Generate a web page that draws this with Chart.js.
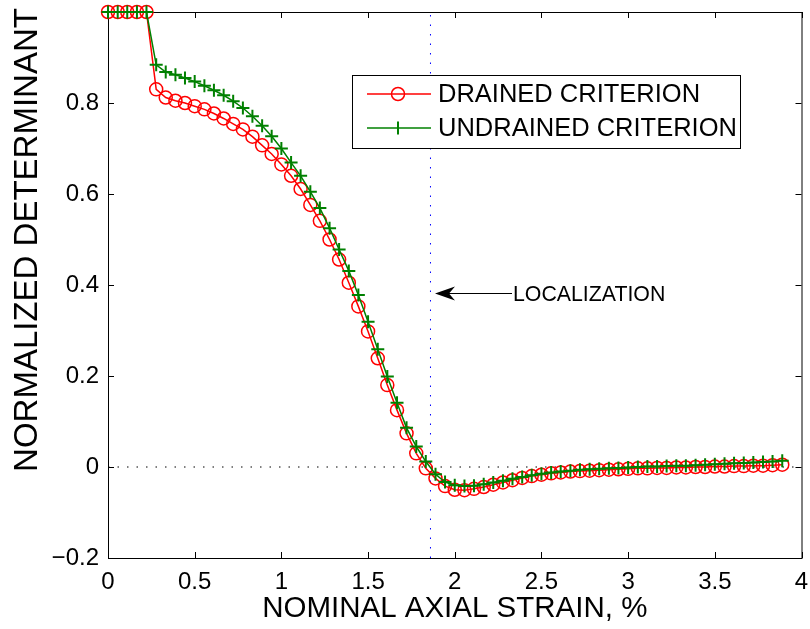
<!DOCTYPE html>
<html>
<head>
<meta charset="utf-8">
<script src="https://cdn.jsdelivr.net/npm/chart.js@4.4.1/dist/chart.umd.min.js"></script>
<style>
html, body { margin: 0; padding: 0; background: #fff; }
#wrap { width: 810px; height: 629px; }
</style>
</head>
<body>
<div id="wrap"><canvas id="chart" width="810" height="629"></canvas></div>
<script>
// nominal axial strain, %
const strain = [0, 0.056, 0.111, 0.167, 0.222, 0.278, 0.333, 0.389, 0.444, 0.5,
  0.556, 0.611, 0.667, 0.722, 0.778, 0.833, 0.889, 0.944, 1.0, 1.056,
  1.111, 1.167, 1.222, 1.278, 1.333, 1.389, 1.444, 1.5, 1.556, 1.611,
  1.667, 1.722, 1.778, 1.833, 1.889, 1.944, 2.0, 2.056, 2.111, 2.167,
  2.222, 2.278, 2.333, 2.389, 2.444, 2.5, 2.556, 2.611, 2.667, 2.722,
  2.778, 2.833, 2.889, 2.944, 3.0, 3.056, 3.111, 3.167, 3.222, 3.278,
  3.333, 3.389, 3.444, 3.5, 3.556, 3.611, 3.667, 3.722, 3.778, 3.833, 3.889];

// normalized determinant, drained criterion
const drained = [1, 1, 1, 1, 1, 0.830, 0.812, 0.805, 0.800, 0.793,
  0.786, 0.777, 0.766, 0.754, 0.742, 0.726, 0.707, 0.688, 0.665, 0.640,
  0.611, 0.576, 0.541, 0.500, 0.456, 0.405, 0.353, 0.298, 0.239, 0.180,
  0.125, 0.074, 0.030, -0.003, -0.025, -0.042, -0.050, -0.051, -0.048, -0.044,
  -0.039, -0.034, -0.029, -0.024, -0.020, -0.017, -0.014, -0.012, -0.010, -0.009,
  -0.008, -0.007, -0.006, -0.005, -0.004, -0.003, -0.003, -0.002, -0.002, -0.001,
  -0.001, 0.000, 0.000, 0.001, 0.001, 0.002, 0.002, 0.003, 0.003, 0.004, 0.005];

// normalized determinant, undrained criterion
const undrained = [1, 1, 1, 1, 1, 0.884, 0.868, 0.862, 0.855, 0.847,
  0.838, 0.828, 0.817, 0.804, 0.789, 0.771, 0.750, 0.727, 0.700, 0.669,
  0.640, 0.605, 0.569, 0.525, 0.478, 0.431, 0.378, 0.319, 0.259, 0.199,
  0.141, 0.086, 0.045, 0.012, -0.016, -0.033, -0.040, -0.042, -0.041, -0.038,
  -0.034, -0.030, -0.026, -0.022, -0.018, -0.015, -0.012, -0.010, -0.008, -0.006,
  -0.005, -0.004, -0.003, -0.002, -0.001, 0.000, 0.001, 0.001, 0.002, 0.003,
  0.003, 0.004, 0.005, 0.006, 0.007, 0.008, 0.009, 0.010, 0.011, 0.012, 0.014];

const localizationStrain = 1.86;

const xTicks = [0, 0.5, 1, 1.5, 2, 2.5, 3, 3.5, 4];
const xTickLabels = ['0', '0.5', '1', '1.5', '2', '2.5', '3', '3.5', '4'];
const yTicks = [-0.2, 0, 0.2, 0.4, 0.6, 0.8, 1];
const yTickLabels = ['\u22120.2', '0', '0.2', '0.4', '0.6', '0.8', ''];

const seriesNames = ['DRAINED CRITERION', 'UNDRAINED CRITERION'];
const FONT = "'Liberation Sans', Arial, Helvetica, sans-serif";

// box round the axes, with inward ticks on all four sides
const axesBox = {
  id: 'axesBox',
  beforeDatasetsDraw(chart) {
    const { ctx, chartArea: a, scales: { x, y } } = chart;
    ctx.save();
    ctx.strokeStyle = '#000';
    ctx.lineWidth = 1;
    ctx.strokeRect(a.left + 0.5, a.top + 0.5, a.right - a.left, a.bottom - a.top);
    ctx.beginPath();
    xTicks.forEach(v => {
      const px = Math.round(x.getPixelForValue(v)) + 0.5;
      ctx.moveTo(px, a.bottom); ctx.lineTo(px, a.bottom - 6);
      ctx.moveTo(px, a.top); ctx.lineTo(px, a.top + 6);
    });
    yTicks.forEach(v => {
      const py = Math.round(y.getPixelForValue(v)) + 0.5;
      ctx.moveTo(a.left, py); ctx.lineTo(a.left + 6, py);
      ctx.moveTo(a.right, py); ctx.lineTo(a.right - 6, py);
    });
    ctx.stroke();

    // y title sits above the axis centre, as in the original figure
    ctx.fillStyle = '#000';
    ctx.font = '33px ' + FONT;
    ctx.textAlign = 'center';
    ctx.textBaseline = 'middle';
    ctx.translate(28, 240);
    ctx.rotate(-Math.PI / 2);
    ctx.fillText('NORMALIZED DETERMINANT', 0, 0);
    ctx.restore();
  }
};

// legend box and LOCALIZATION arrow
const overlay = {
  id: 'overlay',
  afterDraw(chart) {
    const ctx = chart.ctx;
    ctx.save();
    // legend
    ctx.fillStyle = '#fff';
    ctx.fillRect(352, 75, 388, 73);
    ctx.strokeStyle = '#000';
    ctx.lineWidth = 1;
    ctx.strokeRect(352.5, 75.5, 388, 73);

    ctx.lineWidth = 1.5;
    ctx.strokeStyle = '#ff0000';
    ctx.beginPath(); ctx.moveTo(367, 94); ctx.lineTo(431, 94); ctx.stroke();
    ctx.beginPath(); ctx.arc(398, 94, 6.5, 0, Math.PI * 2); ctx.stroke();

    ctx.strokeStyle = '#008000';
    ctx.beginPath(); ctx.moveTo(367, 128); ctx.lineTo(431, 128); ctx.stroke();
    ctx.lineWidth = 2;
    ctx.beginPath(); ctx.moveTo(398, 121.5); ctx.lineTo(398, 134.5); ctx.stroke();

    ctx.fillStyle = '#000';
    ctx.font = '25.5px ' + FONT;
    ctx.textAlign = 'left';
    ctx.textBaseline = 'middle';
    ctx.fillText(seriesNames[0], 438, 95);
    ctx.fillText(seriesNames[1], 438, 129);

    // annotation arrow
    ctx.strokeStyle = '#000';
    ctx.lineWidth = 1;
    ctx.beginPath(); ctx.moveTo(512, 293.5); ctx.lineTo(445, 293.5); ctx.stroke();
    ctx.beginPath();
    ctx.moveTo(435, 293.5);
    ctx.lineTo(455, 286.5);
    ctx.lineTo(449, 293.5);
    ctx.lineTo(455, 300.5);
    ctx.closePath();
    ctx.fill();
    ctx.font = '21.3px ' + FONT;
    ctx.fillText('LOCALIZATION', 513, 295);
    ctx.restore();
  }
};

const pts = ys => strain.map((s, i) => ({ x: s, y: ys[i] }));

new Chart(document.getElementById('chart'), {
  type: 'line',
  data: {
    datasets: [
      {
        label: seriesNames[0],
        data: pts(drained),
        borderColor: '#ff0000',
        borderWidth: 1.5,
        pointStyle: 'circle',
        pointRadius: 6.5,
        pointBorderWidth: 1.5,
        pointBorderColor: '#ff0000',
        pointBackgroundColor: 'rgba(0,0,0,0)',
        clip: false,
        order: 1
      },
      {
        label: seriesNames[1],
        data: pts(undrained),
        borderColor: '#008000',
        borderWidth: 1.5,
        pointStyle: 'cross',
        pointRadius: 6.5,
        pointBorderWidth: 2,
        pointBorderColor: '#008000',
        clip: false,
        order: 0
      },
      {
        label: 'localization',
        data: [{ x: localizationStrain, y: -0.2 }, { x: localizationStrain, y: 1 }],
        borderColor: '#0000ff',
        borderWidth: 1,
        borderDash: [1.5, 8],
        pointRadius: 0,
        order: 3
      },
      {
        label: 'zero',
        data: [{ x: 0, y: 0 }, { x: 4, y: 0 }],
        borderColor: '#000',
        borderWidth: 1,
        borderDash: [1.5, 8],
        pointRadius: 0,
        order: 3
      }
    ]
  },
  options: {
    responsive: false,
    animation: false,
    devicePixelRatio: 1,
    layout: { padding: { left: 0, right: 5, top: 12, bottom: 0 } },
    plugins: { legend: { display: false }, tooltip: { enabled: false } },
    elements: { line: { tension: 0 } },
    scales: {
      x: {
        type: 'linear',
        min: 0,
        max: 4,
        grid: { display: false, drawTicks: false },
        border: { display: false },
        afterBuildTicks: s => { s.ticks = xTicks.map(v => ({ value: v })); },
        ticks: {
          autoSkip: false,
          maxRotation: 0,
          padding: 10,
          color: '#000',
          font: { family: FONT, size: 24 },
          callback: (v, i) => xTickLabels[i]
        },
        title: {
          display: true,
          text: 'NOMINAL AXIAL STRAIN, %',
          color: '#000',
          font: { family: FONT, size: 29.5 },
          padding: { top: 0, bottom: 2 }
        },
        afterFit: s => { s.height = 71; s.paddingLeft = 0; s.paddingRight = 0; }
      },
      y: {
        type: 'linear',
        min: -0.2,
        max: 1,
        grid: { display: false, drawTicks: false },
        border: { display: false },
        afterBuildTicks: s => { s.ticks = yTicks.map(v => ({ value: v })); },
        ticks: {
          autoSkip: false,
          padding: 9,
          color: '#000',
          font: { family: FONT, size: 24 },
          callback: (v, i) => yTickLabels[i]
        },
        afterFit: s => { s.width = 108; s.paddingTop = 0; s.paddingBottom = 0; }
      }
    }
  },
  plugins: [axesBox, overlay]
});
</script>
</body>
</html>
